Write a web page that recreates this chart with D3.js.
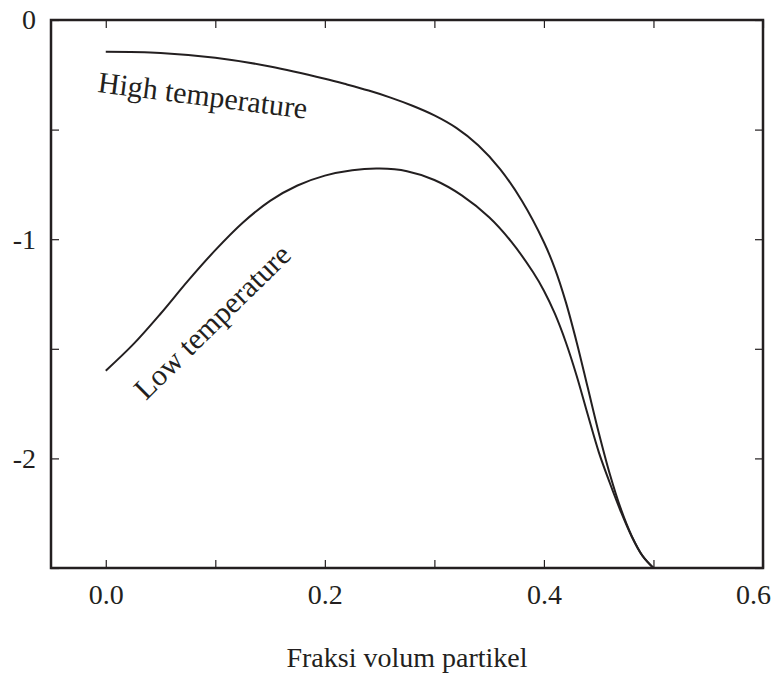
<!DOCTYPE html>
<html>
<head>
<script src="https://cdn.jsdelivr.net/npm/d3@7/dist/d3.min.js"></script>
<style>
    body{ margin:0; background:#fff; }
    svg text{ font-family:"Liberation Serif", "DejaVu Serif", serif; fill:#231f20; }
</style>
</head>
<body>
<div id="chart"></div>
<script>
// values
var highX = [0, 0.05, 0.1, 0.15, 0.2, 0.22, 0.24, 0.26, 0.28, 0.30, 0.32, 0.34, 0.36, 0.38, 0.40, 0.41, 0.42, 0.43, 0.44, 0.45, 0.46, 0.47, 0.48, 0.49, 0.50]
var highY = [-0.145, -0.15, -0.172, -0.212, -0.268, -0.294, -0.322, -0.354, -0.391, -0.435, -0.492, -0.571, -0.68, -0.826, -1.014, -1.134, -1.287, -1.472, -1.677, -1.882, -2.069, -2.227, -2.352, -2.444, -2.5]
var lowX = [0, 0.025, 0.05, 0.075, 0.1, 0.125, 0.15, 0.175, 0.2, 0.225, 0.25, 0.275, 0.3, 0.325, 0.35, 0.37, 0.39, 0.40, 0.41, 0.42, 0.43, 0.44, 0.45, 0.46, 0.47, 0.48, 0.49, 0.50]
var lowY = [-1.60, -1.48, -1.34, -1.19, -1.05, -0.925, -0.825, -0.755, -0.71, -0.685, -0.678, -0.69, -0.73, -0.80, -0.90, -1.01, -1.15, -1.235, -1.34, -1.47, -1.625, -1.80, -1.97, -2.11, -2.24, -2.355, -2.445, -2.5]
var xTicks = [0, 0.1, 0.2, 0.3, 0.4, 0.5, 0.6]
var yTicks = [0, -0.5, -1, -1.5, -2, -2.5]
var xTitle = "Fraksi volum partikel"
var highLabel = "High temperature"
var lowLabel = "Low temperature"

var W = 776, H = 673
// plot box (note: "top" is reserved on window, so use own names)
var pL = 51, pR = 763, pT = 20, pB = 568

var svg = d3.select("#chart").append("svg").attr("width", W).attr("height", H)

var x = d3.scaleLinear().domain([-0.05, 0.6]).range([pL, pR])
var y = d3.scaleLinear().domain([0, -2.5]).range([pT, pB])

// axes, ticks pointing inward
var fx = function(d){ return (Math.round(d*10) % 2 == 0) ? d3.format(".1f")(d) : "" }
var fy = function(d){ return Number.isInteger(d) ? String(d) : "" }

var xb = svg.append("g").attr("transform", "translate(0," + pB + ")")
    .call(d3.axisBottom(x).tickValues(xTicks).tickSizeInner(-8).tickSizeOuter(0).tickPadding(16).tickFormat(fx))
var xt = svg.append("g").attr("transform", "translate(0," + pT + ")")
    .call(d3.axisTop(x).tickValues(xTicks).tickSizeInner(-8).tickSizeOuter(0).tickFormat(""))
var yl = svg.append("g").attr("transform", "translate(" + pL + ",0)")
    .call(d3.axisLeft(y).tickValues(yTicks).tickSizeInner(-8).tickSizeOuter(0).tickPadding(15).tickFormat(fy))
var yr = svg.append("g").attr("transform", "translate(" + pR + ",0)")
    .call(d3.axisRight(y).tickValues(yTicks).tickSizeInner(-8).tickSizeOuter(0).tickFormat(""))

svg.selectAll(".domain").remove()
svg.selectAll(".tick line").attr("stroke", "#231f20").attr("stroke-width", 1.2)
xb.selectAll("text").attr("font-size", 28).attr("dy", "0.72em")
yl.selectAll("text").attr("font-size", 28)
// last x label sits inside the window
xb.selectAll(".tick text").filter(function(d){ return d == 0.6 }).attr("dx", -10)

// frame
svg.append("rect")
    .attr("x", pL).attr("y", pT)
    .attr("width", pR - pL).attr("height", pB - pT)
    .attr("fill", "none").attr("stroke", "#231f20").attr("stroke-width", 2.5)

var line = d3.line()
    .x(function(d){ return x(d[0]) })
    .y(function(d){ return y(d[1]) })
    .curve(d3.curveCatmullRom.alpha(0.5))

var highData = d3.zip(highX, highY)
var lowData = d3.zip(lowX, lowY)

svg.append("path").datum(highData).attr("d", line)
    .attr("fill", "none").attr("stroke", "#231f20").attr("stroke-width", 2)
svg.append("path").datum(lowData).attr("d", line)
    .attr("fill", "none").attr("stroke", "#231f20").attr("stroke-width", 2)

// curve labels
svg.append("text").text(highLabel)
    .attr("font-size", 30)
    .attr("transform", "translate(97,92) rotate(7.3)")
svg.append("text").text(lowLabel)
    .attr("font-size", 30)
    .attr("transform", "translate(146,401) rotate(-44.5)")

// axis title
svg.append("text").text(xTitle)
    .attr("font-size", 28)
    .attr("text-anchor", "middle")
    .attr("x", (pL + pR) / 2).attr("y", 667)
</script>
</body>
</html>
